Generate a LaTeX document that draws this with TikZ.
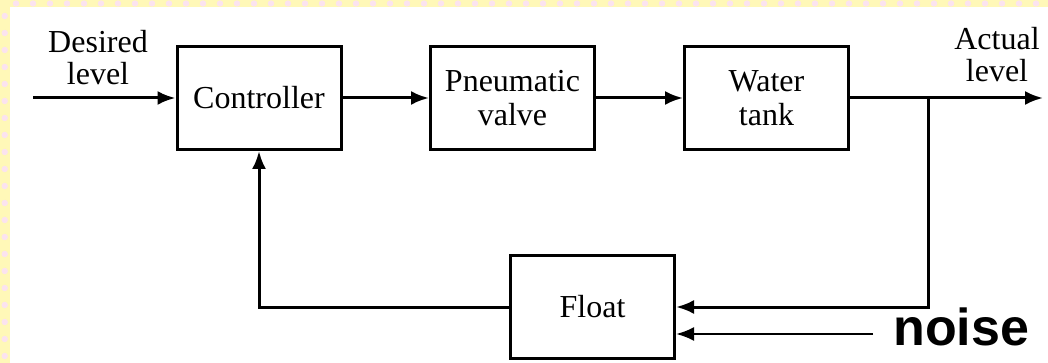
\documentclass[tikz,border=0pt]{standalone}
\usepackage{fontspec}
\setmainfont{Liberation Serif}
\newfontfamily\noisefont{Liberation Sans}
\usetikzlibrary{arrows.meta}
\definecolor{bgpink}{HTML}{FBE3EF}
\definecolor{bgyel}{HTML}{FFF8B8}
\begin{document}
\begin{tikzpicture}[x=0.5pt,y=-0.5pt,
  blk/.style={draw, line width=1.5pt, minimum width=82pt, minimum height=51.5pt, align=center, inner sep=0pt, font=\fontsize{16}{17}\selectfont},
  lbl/.style={align=center, inner sep=0pt, font=\fontsize{16}{16}\selectfont},
  sig/.style={line width=1.5pt, -{Latex[length=9pt,width=7pt]}},
]
\useasboundingbox (0,0) rectangle (1048,363);
\fill[white] (0,0) rectangle (1048,363);
\fill[bgyel] (0,0) rectangle (1048,7);
\fill[bgyel] (0,0) rectangle (9.5,363);
\foreach \i in {0,...,61} \fill[bgpink] (\i*17+16,3.5) circle (1.6pt);
\foreach \j in {0,...,21} \fill[bgpink] (4.75,\j*17+16) circle (1.6pt);

\node[blk] (ctrl) at (259,98) {Controller};
\node[blk] (valve) at (512.5,98) {Pneumatic\\valve};
\node[blk] (tank) at (766.5,98) {Water\\tank};
\node[blk] (float) at (592.5,307) {Float};
\node[lbl] (des) at (98,58) {Desired\\level};
\node[lbl] (act) at (997,55) {Actual\\level};
\node[inner sep=0pt, anchor=base west, font=\noisefont\fontsize{26}{26}\selectfont\bfseries] (noise) at (893,345) {noise};
\coordinate (in) at (33,98);
\coordinate (out) at (1043,98);
\coordinate (br) at (928,98);
\coordinate (nz) at (873,334);

\draw[sig] (in) -- (ctrl);
\draw[sig] (ctrl) -- (valve);
\draw[sig] (valve) -- (tank);
\draw[sig] (tank) -- (out);
\draw[sig] (br) |- (float.east);
\draw[sig] (float) -| (ctrl);
\draw[line width=1.2pt, -{Latex[length=9pt,width=7pt]}] (nz) -- (nz -| float.east);
\end{tikzpicture}
\end{document}
